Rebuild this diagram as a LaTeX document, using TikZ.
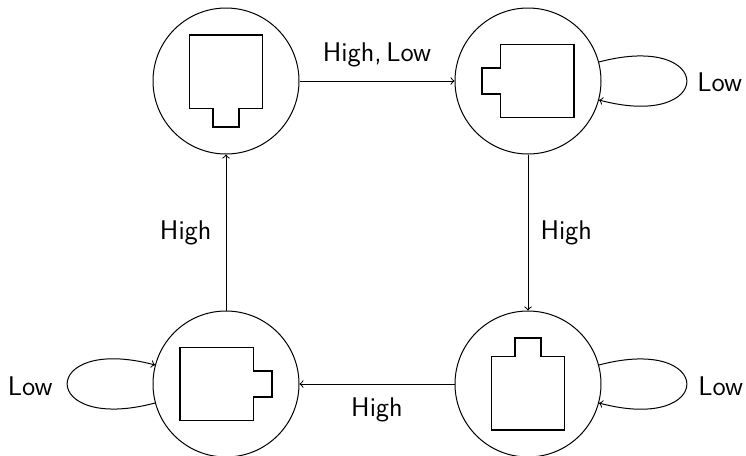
\documentclass[tikz,border=0pt]{standalone}
\usepackage{fontspec}
\begin{document}
\begin{tikzpicture}[x=0.5pt,y=-0.5pt,
  font=\sffamily\fontsize{13.5}{16}\selectfont,
  state/.style={circle,draw,line width=0.5pt,minimum size=73pt,inner sep=0pt},
  room/.style={draw,line width=0.75pt,line join=miter},
  trans/.style={->,line width=0.5pt},
  lbl/.style={inner sep=0pt}]
\clip (0,0) rectangle (746,456);

% states
\node[state] (tl) at (226,81) {};
\node[state] (tr) at (528,81) {};
\node[state] (br) at (528,384) {};
\node[state] (bl) at (226,384) {};

% floor outlines inside the states
\draw[room,shift={(tl.center)}] (-36.7,-45.8) -- (36.7,-45.8) -- (36.7,27.5) -- (12.8,27.5)
  -- (12.8,45.8) -- (-12.8,45.8) -- (-12.8,27.5) -- (-36.7,27.5) -- cycle;
\draw[room,shift={(tr.center)}] (-27.5,-36.7) -- (45.8,-36.7) -- (45.8,36.7) -- (-27.5,36.7)
  -- (-27.5,12.8) -- (-45.8,12.8) -- (-45.8,-12.8) -- (-27.5,-12.8) -- cycle;
\draw[room,shift={(br.center)}] (-36.7,-27.5) -- (-12.8,-27.5) -- (-12.8,-45.8) -- (12.8,-45.8)
  -- (12.8,-27.5) -- (36.7,-27.5) -- (36.7,45.8) -- (-36.7,45.8) -- cycle;
\draw[room,shift={(bl.center)}] (-45.8,-36.7) -- (27.5,-36.7) -- (27.5,-12.8) -- (45.8,-12.8)
  -- (45.8,12.8) -- (27.5,12.8) -- (27.5,36.7) -- (-45.8,36.7) -- cycle;

% transitions between states
\draw[trans] (tl) -- node[lbl,above=6.5pt] (l1) {High,\,Low} (tr);
\draw[trans] (tr) -- node[lbl,right=6pt] (l2) {High} (br);
\draw[trans] (br) -- node[lbl,below=6.5pt] (l3) {High} (bl);
\draw[trans] (bl) -- node[lbl,left=7pt] (l4) {High} (tl);

% self loops
\draw[trans] (tr.15) .. controls +(117,-31) and +(117,31) .. (tr.-15);
\draw[trans] (br.15) .. controls +(117,-31) and +(117,31) .. (br.-15);
\draw[trans] (bl.195) .. controls +(-117,31) and +(-117,-31) .. (bl.165);
\node[lbl,anchor=west] (ltr) at (697,82) {Low};
\node[lbl,anchor=west] (lbr) at (698,386) {Low};
\node[lbl,anchor=east] (lbl) at (53,386) {Low};
\end{tikzpicture}
\end{document}
